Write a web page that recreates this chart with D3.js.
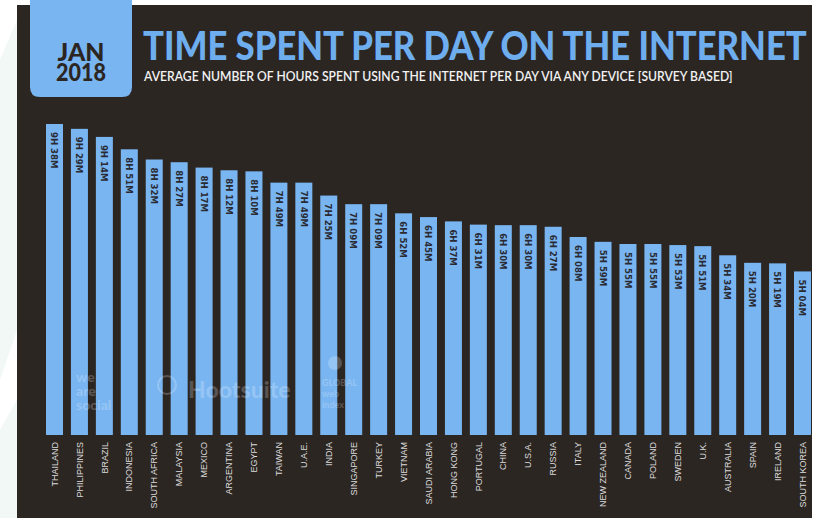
<!DOCTYPE html>
<html>
<head>
<meta charset="utf-8">
<script src="https://cdn.jsdelivr.net/npm/d3@7"></script>
<style>
  html, body { margin: 0; padding: 0; background: #ffffff; }
  svg { display: block; }
</style>
</head>
<body>
<script>
    const width = 817;
    const height = 518;

    // data (minutes per day)
    const countries = ["THAILAND", "PHILIPPINES", "BRAZIL", "INDONESIA", "SOUTH AFRICA", "MALAYSIA",
        "MEXICO", "ARGENTINA", "EGYPT", "TAIWAN", "U.A.E.", "INDIA", "SINGAPORE", "TURKEY",
        "VIETNAM", "SAUDI ARABIA", "HONG KONG", "PORTUGAL", "CHINA", "U.S.A.", "RUSSIA", "ITALY",
        "NEW ZEALAND", "CANADA", "POLAND", "SWEDEN", "U.K.", "AUSTRALIA", "SPAIN", "IRELAND",
        "SOUTH KOREA"];
    const minutes = [578, 569, 554, 531, 512, 507, 497, 492, 490, 469, 469, 445, 429, 429,
        412, 405, 397, 391, 390, 390, 387, 368, 359, 355, 355, 353, 351, 334, 320, 319, 304];

    const title = "TIME SPENT PER DAY ON THE INTERNET";
    const subtitle = "AVERAGE NUMBER OF HOURS SPENT USING THE INTERNET PER DAY VIA ANY DEVICE [SURVEY BASED]";
    const tabLines = ["JAN", "2018"];

    const panel = "#2c2623";
    const blue = "#78b5f1";

    const fmt = m => `${Math.floor(m / 60)}H ${String(m % 60).padStart(2, "0")}M`;

    const svg = d3.select("body")
        .append("svg")
        .attr("width", width)
        .attr("height", height);

    // page background with faint mint shapes
    svg.append("rect").attr("width", width).attr("height", height).attr("fill", "#ffffff");
    svg.append("path")
        .attr("d", "M0,60 L17,20 L17,330 L0,380 Z")
        .attr("fill", "#f1f8f5");
    svg.append("path")
        .attr("d", "M0,430 L17,400 L17,518 L0,518 Z")
        .attr("fill", "#f1f8f5");

    // dark panel
    svg.append("rect")
        .attr("x", 17).attr("y", 5)
        .attr("width", 795).attr("height", 513)
        .attr("fill", panel);

    // squeeze a text horizontally so it spans w pixels
    function fitWidth(sel, x0, y0, w) {
        const bw = sel.node().getBBox().width;
        sel.attr("transform", `translate(${x0},${y0}) scale(${w / bw},1)`);
    }

    // date tab
    svg.append("path")
        .attr("d", "M30,0 H132 V87 Q132,97 122,97 H40 Q30,97 30,87 Z")
        .attr("fill", blue);
    svg.append("text")
        .attr("text-anchor", "middle")
        .attr("font-family", "Lato, 'DejaVu Sans', sans-serif")
        .attr("font-weight", 900)
        .attr("font-size", 24)
        .attr("fill", panel)
        .selectAll("tspan")
        .data(tabLines)
        .join("tspan")
        .attr("x", 81)
        .attr("y", (d, i) => 61 + i * 20)
        .attr("textLength", (d, i) => [47, 50][i])
        .attr("lengthAdjust", "spacingAndGlyphs")
        .text(d => d);

    // title + subtitle
    const titleText = svg.append("text")
        .attr("font-family", "Lato, 'DejaVu Sans', sans-serif")
        .attr("font-weight", 900)
        .attr("font-size", 39)
        .attr("fill", "#6eaeef")
        .text(title);
    fitWidth(titleText, 143, 60, 664);

    const subText = svg.append("text")
        .attr("font-family", "Lato, 'DejaVu Sans', sans-serif")
        .attr("font-weight", 600)
        .attr("font-size", 13)
        .attr("fill", "#f2f2f2")
        .text(subtitle);
    fitWidth(subText, 144, 81, 590);

    // scales
    const x = d3.scaleBand()
        .domain(countries)
        .range([46, 811])
        .paddingInner(0.318)
        .paddingOuter(0);
    const y = d3.scaleLinear()
        .domain([0, 578])
        .range([435, 124]);

    const data = countries.map((c, i) => ({ country: c, value: minutes[i] }));

    svg.append("g")
        .selectAll("rect")
        .data(data)
        .join("rect")
        .attr("x", d => x(d.country))
        .attr("y", d => y(d.value))
        .attr("width", x.bandwidth())
        .attr("height", d => y(0) - y(d.value))
        .attr("fill", blue);

    // value labels inside bars
    svg.append("g")
        .selectAll("text")
        .data(data)
        .join("text")
        .attr("transform", d => `translate(${x(d.country) + x.bandwidth() / 2},${y(d.value) + 8}) rotate(90)`)
        .attr("dy", "0.35em")
        .attr("font-family", "'DejaVu Sans Condensed', 'DejaVu Sans', sans-serif")
        .attr("font-stretch", "condensed")
        .attr("font-weight", "bold")
        .attr("font-size", 9.5)
        .attr("fill", "#2a2a33")
        .text(d => fmt(d.value));

    // watermark logos
    const wm = svg.append("g")
        .attr("fill", "#ffffff")
        .attr("fill-opacity", 0.22)
        .attr("font-family", "Lato, 'DejaVu Sans', sans-serif")
        .attr("font-weight", 900);
    wm.append("text")
        .attr("font-size", 14)
        .selectAll("tspan")
        .data(["we", "are", "social"])
        .join("tspan")
        .attr("x", 76)
        .attr("y", (d, i) => 382 + i * 14)
        .text(d => d);
    wm.append("text")
        .attr("x", 188).attr("y", 398)
        .attr("font-size", 23)
        .text("Hootsuite");
    wm.append("circle")
        .attr("cx", 167).attr("cy", 385).attr("r", 9)
        .attr("fill", "none").attr("stroke", "#ffffff").attr("stroke-opacity", 0.22).attr("stroke-width", 2);
    wm.append("circle")
        .attr("cx", 335).attr("cy", 363).attr("r", 7);
    wm.append("text")
        .attr("font-size", 9)
        .selectAll("tspan")
        .data(["GLOBAL", "web", "index"])
        .join("tspan")
        .attr("x", 322)
        .attr("y", (d, i) => 386 + i * 11)
        .text(d => d);

    // country labels
    svg.append("g")
        .selectAll("text")
        .data(countries)
        .join("text")
        .attr("transform", d => `translate(${x(d) + x.bandwidth() / 2},442) rotate(-90)`)
        .attr("text-anchor", "end")
        .attr("dy", "0.35em")
        .attr("font-family", "'Liberation Sans', Arial, sans-serif")
        .attr("font-size", 9)
        .attr("fill", "#dcdcdc")
        .text(d => d);
</script>
</body>
</html>
